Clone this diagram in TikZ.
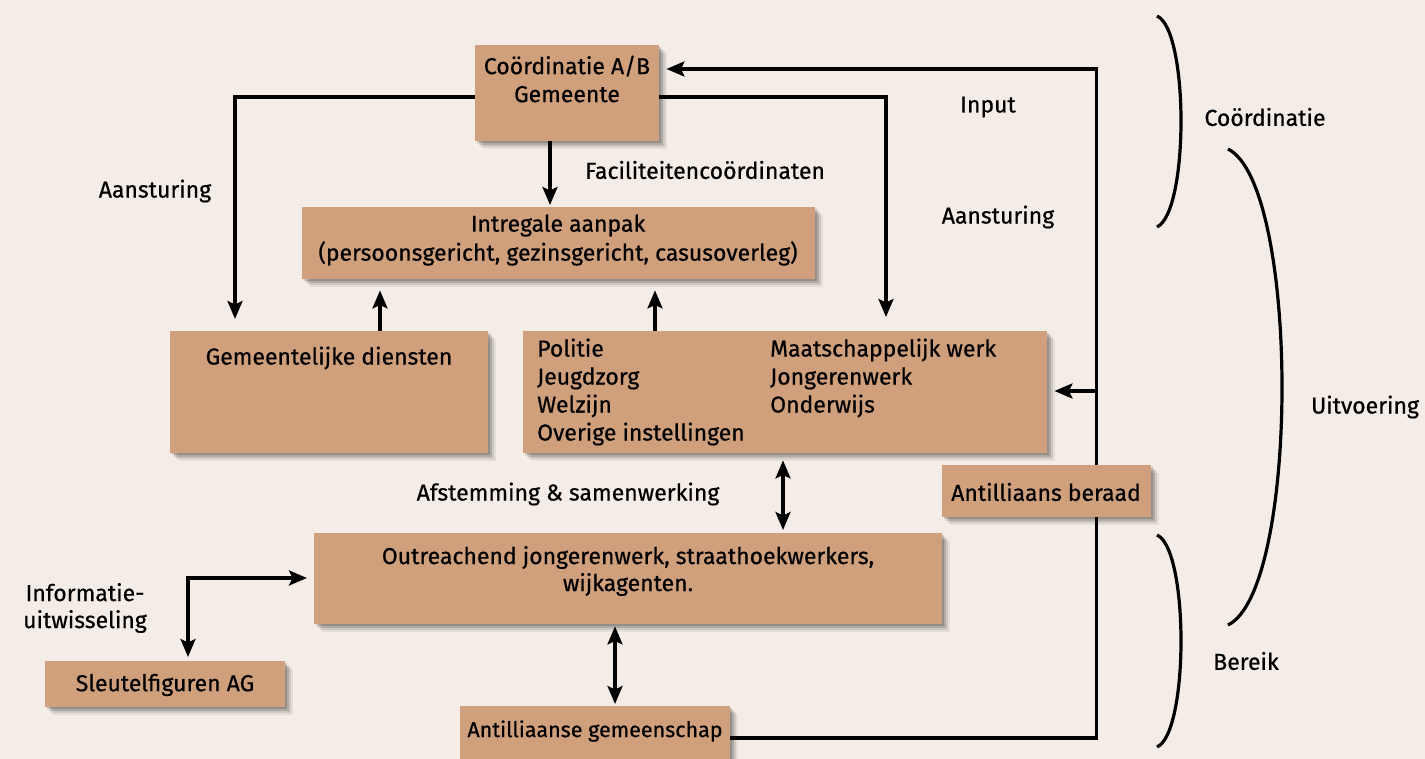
\documentclass[tikz,border=0pt]{standalone}
\usepackage{fontspec}
\setmainfont{Fira Sans}[FakeBold=0.6]
\usetikzlibrary{arrows.meta,shadows,calc}
\definecolor{bgc}{HTML}{F4ECE6}
\definecolor{boxc}{HTML}{D0A07D}
\pgfdeclarelayer{back}
\pgfdeclarelayer{bg}
\pgfsetlayers{back,bg,main}
\begin{document}
\begin{tikzpicture}[x=1pt,y=-1pt,
  box/.style={fill=boxc, draw=none, inner sep=0pt, anchor=north west,
    drop shadow={shadow xshift=8pt, shadow yshift=-8pt, fill=black, opacity=.06},
    drop shadow={shadow xshift=6pt, shadow yshift=-6pt, fill=black, opacity=.10},
    drop shadow={shadow xshift=4pt, shadow yshift=-4pt, fill=black, opacity=.14},
    drop shadow={shadow xshift=2pt, shadow yshift=-2pt, fill=black, opacity=.16}},
  txt/.style={font=\fontsize{23}{28}\selectfont, inner sep=0pt, align=center, text=black},
  ln/.style={line width=3.2pt, black},
  tip/.tip={Stealth[length=18pt,width=15pt,inset=3.5pt]},
  arr/.style={ln, -tip},
  darr/.style={ln, tip-tip}
]
\useasboundingbox (0,0) rectangle (1425,759);
\begin{pgfonlayer}{back}
  \fill[bgc] (0,0) rectangle (1425,759);
\end{pgfonlayer}

% boxes
\node[box, minimum width=184pt, minimum height=96pt] (c)  at (475,45)  {};
\node[box, minimum width=513pt, minimum height=72pt] (ia) at (302,207) {};
\node[box, minimum width=318pt, minimum height=122pt] (gd) at (170,331) {};
\node[box, minimum width=524pt, minimum height=122pt] (po) at (523,331) {};
\node[box, minimum width=209pt, minimum height=52pt] (ab) at (942,465) {};
\node[box, minimum width=628pt, minimum height=91pt] (ou) at (314,533) {};
\node[box, minimum width=240pt, minimum height=46pt] (sl) at (45,661)  {};
\node[box, minimum width=270pt, minimum height=62pt] (ag) at (460,706) {};

% box texts
\node[txt] (ct)  at (567,79)  {Coördinatie A/B\\Gemeente};
\node[txt, font=\fontsize{23}{29}\selectfont] (iat) at (558,240) {Intregale aanpak\\(persoonsgericht, gezinsgericht, casusoverleg)};
\node[txt] (gdt) at (329,358) {Gemeentelijke diensten};
\node[txt, align=left, anchor=west] (pol) at (537,392) {Politie\\Jeugdzorg\\Welzijn\\Overige instellingen};
\node[txt, align=left, anchor=west] (por) at (770,378) {Maatschappelijk werk\\Jongerenwerk\\Onderwijs};
\node[txt] (abt) at (1046,492) {Antilliaans beraad};
\node[txt, font=\fontsize{23}{27}\selectfont] (out) at (628,571) {Outreachend jongerenwerk, straathoekwerkers,\\wijkagenten.};
\node[txt] (slt) at (165,685) {Sleutelfiguren AG};
\node[txt, font=\fontsize{21.5}{27}\selectfont] (agt) at (595,731) {Antilliaanse gemeenschap};

% free labels
\node[txt] (l1) at (988,107) {Input};
\node[txt] (l2) at (705,170) {Faciliteitencoördinaten};
\node[txt] (l3) at (155,191) {Aansturing};
\node[txt] (l4) at (998,217) {Aansturing};
\node[txt] (l5) at (568,494) {Afstemming \& samenwerking};
\node[txt, font=\fontsize{23}{27}\selectfont] (l6) at (85,608) {Informatie-\\uitwisseling};
\node[txt] (l7) at (1265,117) {Coördinatie};
\node[txt] (l8) at (1365,407) {Uitvoering};
\node[txt] (l9) at (1246,661) {Bereik};

% connectors
\begin{pgfonlayer}{bg}
  \coordinate (cL) at ($(c.north west)+(0,52)$);
  \coordinate (cR) at ($(c.north east)+(0,52)$);
  \draw[arr] (cL) -| ($(gd.north west)+(65,-12)$);
  \draw[arr] (cR) -| ($(po.north west)+(363,-14)$);
  \draw[arr] ($(c.south west)+(75,0)$) -- ($(ia.north west)+(248,-2)$);
  \draw[arr] ($(gd.north west)+(210,0)$) -- ($(ia.south west)+(78,11)$);
  \draw[arr] ($(po.north west)+(132,0)$) -- ($(ia.south west)+(353,11)$);
  \draw[darr] ($(po.south west)+(260,7)$) -- ($(ou.north west)+(469,-3)$);
  \draw[darr] ($(ou.south west)+(301,2)$) -- ($(ag.north west)+(155,-2)$);
  \draw[darr] ($(sl.north west)+(143,-4)$) |- ($(ou.north west)+(-7,45)$);
  \draw[arr] ($(ag.north east)+(0,32)$) -| ($(c.north east)+(437,24)$) -- ($(c.north east)+(7,24)$);
  \coordinate (br) at ($(c.north east)+(437,346)$);
  \draw[arr] (br) -- ($(po.north east)+(7,60)$);
\end{pgfonlayer}

% brackets
\draw[ln] (1157,16) .. controls (1189,30) and (1189,212) .. (1157,227);
\draw[ln] (1228,149) .. controls (1300,185) and (1300,590) .. (1228,625);
\draw[ln] (1157,535) .. controls (1189,549) and (1189,733) .. (1157,747);
\end{tikzpicture}
\end{document}
